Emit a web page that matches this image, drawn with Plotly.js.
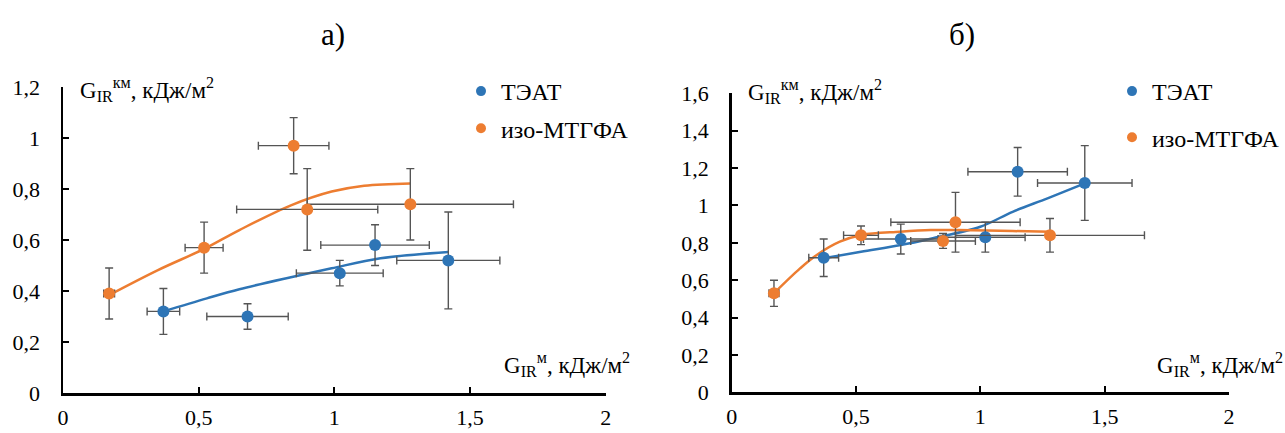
<!DOCTYPE html>
<html>
<head>
<meta charset="utf-8">
<script src="https://cdn.plot.ly/plotly-3.0.1.min.js"></script>
<style>
html,body{margin:0;padding:0;background:#fff;}
#chart{width:1285px;height:433px;}
</style>
</head>
<body>
<div id="chart"></div>
<script>
// ---- data ----
const seriesNames = ['ТЭАТ', 'изо-МТГФА'];
const panelTitles = ['а)', 'б)'];

const xTEAT = [0.37, 0.68, 1.02, 1.15, 1.42];
const xTEATerr = [0.06, 0.15, 0.16, 0.20, 0.19];
const xMTGFA = [0.17, 0.52, 0.85, 0.90, 1.28];
const xMTGFAerr = [0.02, 0.07, 0.13, 0.26, 0.38];

// panel а)
const yTEAT_a = [0.32, 0.30, 0.47, 0.58, 0.52];
const yTEATerr_a = [0.09, 0.05, 0.05, 0.08, 0.19];
const yMTGFA_a = [0.39, 0.57, 0.97, 0.72, 0.74];
const yMTGFAerr_a = [0.10, 0.10, 0.11, 0.16, 0.14];

// panel б)
const yTEAT_b = [0.72, 0.82, 0.83, 1.18, 1.12];
const yTEATerr_b = [0.10, 0.08, 0.08, 0.13, 0.20];
const yMTGFA_b = [0.53, 0.84, 0.81, 0.91, 0.84];
const yMTGFAerr_b = [0.07, 0.05, 0.04, 0.16, 0.09];

// trend lines
const trendTEAT_a_x = [0.37, 0.53, 0.65, 0.84, 0.99, 1.17, 1.42];
const trendTEAT_a_y = [0.32, 0.371, 0.407, 0.454, 0.489, 0.528, 0.553];
const trendMTGFA_a_x = [0.17, 0.35, 0.52, 0.65, 0.84, 0.99, 1.11, 1.28];
const trendMTGFA_a_y = [0.384, 0.482, 0.565, 0.639, 0.736, 0.79, 0.813, 0.822];
const trendTEAT_b_x = [0.37, 0.52, 0.68, 0.80, 1.00, 1.13, 1.27, 1.42];
const trendTEAT_b_y = [0.717, 0.752, 0.788, 0.822, 0.886, 0.966, 1.038, 1.118];
const trendMTGFA_b_x = [0.17, 0.275, 0.342, 0.435, 0.523, 0.677, 0.80, 0.905, 1.13, 1.28];
const trendMTGFA_b_y = [0.53, 0.663, 0.735, 0.806, 0.842, 0.859, 0.868, 0.868, 0.863, 0.859];

// ---- style ----
const BLUE = '#2E75B6';
const ORANGE = '#ED7D31';
const ERR = '#555555';
const FONT = 'Liberation Serif, Times New Roman, serif';

function pts(x, xe, y, ye, color, xa, ya) {
  return {
    type: 'scatter', mode: 'markers', x: x, y: y, xaxis: xa, yaxis: ya,
    showlegend: false, hoverinfo: 'skip',
    marker: {color: color, size: 12},
    error_x: {type: 'data', array: xe, visible: true, color: ERR, thickness: 1.4, width: 4},
    error_y: {type: 'data', array: ye, visible: true, color: ERR, thickness: 1.4, width: 4}
  };
}
function trend(x, y, color, xa, ya) {
  return {type: 'scatter', mode: 'lines', x: x, y: y, xaxis: xa, yaxis: ya,
    showlegend: false, hoverinfo: 'skip',
    line: {color: color, width: 2.5, shape: 'spline', smoothing: 1}};
}
function leg(name, color, xa, ya, legend, group) {
  return {type: 'scatter', mode: 'markers', x: [null], y: [null], xaxis: xa, yaxis: ya,
    name: name, legend: legend, legendgroup: group, marker: {color: color, size: 10}};
}

const data = [
  trend(trendTEAT_a_x, trendTEAT_a_y, BLUE, 'x', 'y'),
  trend(trendMTGFA_a_x, trendMTGFA_a_y, ORANGE, 'x', 'y'),
  pts(xTEAT, xTEATerr, yTEAT_a, yTEATerr_a, BLUE, 'x', 'y'),
  pts(xMTGFA, xMTGFAerr, yMTGFA_a, yMTGFAerr_a, ORANGE, 'x', 'y'),
  trend(trendTEAT_b_x, trendTEAT_b_y, BLUE, 'x2', 'y2'),
  trend(trendMTGFA_b_x, trendMTGFA_b_y, ORANGE, 'x2', 'y2'),
  pts(xTEAT, xTEATerr, yTEAT_b, yTEATerr_b, BLUE, 'x2', 'y2'),
  pts(xMTGFA, xMTGFAerr, yMTGFA_b, yMTGFAerr_b, ORANGE, 'x2', 'y2'),
  leg(seriesNames[0], BLUE, 'x', 'y', 'legend', 'a1'),
  leg(seriesNames[1], ORANGE, 'x', 'y', 'legend', 'a2'),
  leg(seriesNames[0], BLUE, 'x2', 'y2', 'legend2', 'b1'),
  leg(seriesNames[1], ORANGE, 'x2', 'y2', 'legend2', 'b2')
];

const W = 1285, H = 433;
function axisBase() {
  return {
    showgrid: false, zeroline: false, showline: true, linecolor: '#000', linewidth: 2.5,
    ticks: 'inside', ticklen: 6, tickwidth: 2, tickcolor: '#000',
    tickfont: {family: FONT, size: 22, color: '#000'}, automargin: false, fixedrange: true
  };
}
const xa1 = Object.assign(axisBase(), {domain: [63/W, 605.7/W], range: [0, 2], dtick: 0.5, tick0: 0, anchor: 'y', ticklabelstandoff: 3});
const ya1 = Object.assign(axisBase(), {domain: [1-393/H, 1-87/H], range: [0, 1.2], dtick: 0.2, tick0: 0, anchor: 'x', ticklabelstandoff: 16});
const xa2 = Object.assign(axisBase(), {domain: [731.7/W, 1229/W], range: [0, 2], dtick: 0.5, tick0: 0, anchor: 'y2', ticklabelstandoff: 3});
const ya2 = Object.assign(axisBase(), {domain: [1-392.3/H, 1-93.3/H], range: [0, 1.6], dtick: 0.2, tick0: 0, anchor: 'x2', ticklabelstandoff: 16});

const yTitle = 'G<sub>IR</sub><sup>км</sup>, кДж/м<sup>2</sup>';
const xTitle = 'G<sub>IR</sub><sup>м</sup>, кДж/м<sup>2</sup>';
const annFont = {family: FONT, size: 23, color: '#000'};

const layout = {
  width: W, height: H,
  margin: {l: 0, r: 0, t: 0, b: 0},
  paper_bgcolor: '#fff', plot_bgcolor: 'rgba(0,0,0,0)',
  separators: ', ',
  font: {family: FONT, size: 22, color: '#000'},
  xaxis: xa1, yaxis: ya1, xaxis2: xa2, yaxis2: ya2,
  legend: {x: 461/W, y: 1-69/H, xanchor: 'left', yanchor: 'top', bgcolor: 'rgba(0,0,0,0)',
    font: {family: FONT, size: 24, color: '#000'}, traceorder: 'grouped', tracegroupgap: 3},
  legend2: {x: 1, y: 1-69/H, xanchor: 'right', yanchor: 'top', bgcolor: 'rgba(0,0,0,0)',
    font: {family: FONT, size: 24, color: '#000'}, traceorder: 'grouped', tracegroupgap: 12},
  annotations: [
    {text: panelTitles[0], xref: 'paper', yref: 'paper', x: 319/W, y: 1-34/H, yanchor: 'middle', showarrow: false, font: {family: FONT, size: 31, color: '#000'}},
    {text: panelTitles[1], xref: 'paper', yref: 'paper', x: 977/W, y: 1-34/H, yanchor: 'middle', showarrow: false, font: {family: FONT, size: 31, color: '#000'}},
    {text: yTitle, xref: 'paper', yref: 'paper', x: 78/W, y: 1-89/H, xanchor: 'left', yanchor: 'middle', showarrow: false, font: annFont},
    {text: yTitle, xref: 'paper', yref: 'paper', x: 746/W, y: 1-91/H, xanchor: 'left', yanchor: 'middle', showarrow: false, font: annFont},
    {text: xTitle, xref: 'paper', yref: 'paper', x: 632/W, y: 1-364/H, xanchor: 'right', yanchor: 'middle', showarrow: false, font: annFont},
    {text: xTitle, xref: 'paper', yref: 'paper', x: 1285/W, y: 1-364/H, xanchor: 'right', yanchor: 'middle', showarrow: false, font: annFont}
  ]
};

Plotly.newPlot('chart', data, layout, {staticPlot: true, displayModeBar: false});
</script>
</body>
</html>
